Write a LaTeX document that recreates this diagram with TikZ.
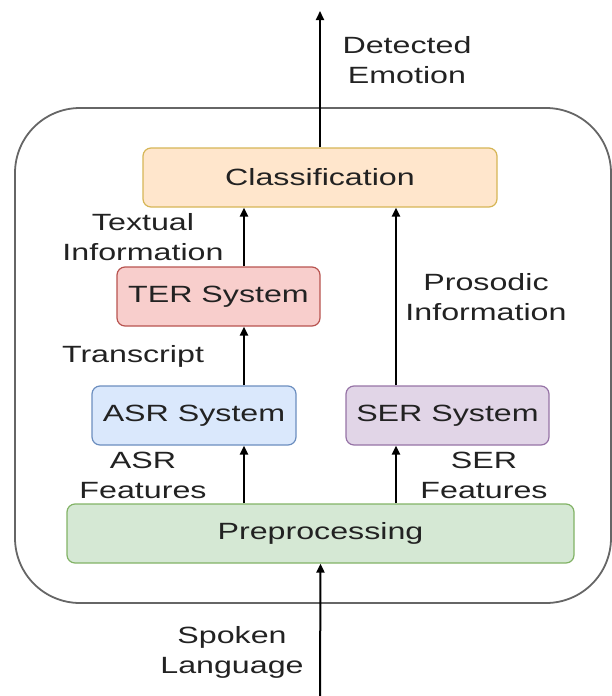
\documentclass[tikz,border=0pt]{standalone}
\usepackage{fontspec}
\setmainfont[FakeStretch=1.37]{Liberation Sans}
\usetikzlibrary{arrows.meta}
\definecolor{clsfill}{HTML}{FFE6CC}\definecolor{clsline}{HTML}{D6B656}
\definecolor{terfill}{HTML}{F8CECC}\definecolor{terline}{HTML}{B85450}
\definecolor{asrfill}{HTML}{DAE8FC}\definecolor{asrline}{HTML}{6C8EBF}
\definecolor{serfill}{HTML}{E1D5E7}\definecolor{serline}{HTML}{9673A6}
\definecolor{prefill}{HTML}{D5E8D4}\definecolor{preline}{HTML}{82B366}
\definecolor{txt}{HTML}{222222}
\tikzset{
  box/.style={draw, line width=1.2pt, rounded corners=8pt, minimum height=59pt, inner sep=0pt, text=txt,
    font=\fontsize{23.5}{30}\selectfont},
  lbl/.style={align=center, text=txt, inner sep=0pt, font=\fontsize{23.5}{30}\selectfont},
  conn/.style={line width=2pt, -{Triangle[length=9pt,width=8pt]}},
}
\begin{document}
\begin{tikzpicture}[x=1pt,y=-1pt]
\useasboundingbox (0,0) rectangle (612,696);
\draw[line width=1.8pt, draw=black!60, rounded corners=65pt] (15,108) rectangle (611,603);
\node[box, fill=clsfill, draw=clsline, minimum width=354pt] (cls) at (320,177.5) {Classification};
\node[box, fill=terfill, draw=terline, minimum width=203pt] (ter) at (218.5,296.5) {TER System};
\node[box, fill=asrfill, draw=asrline, minimum width=204pt] (asr) at (194,415.5) {ASR System};
\node[box, fill=serfill, draw=serline, minimum width=203pt] (ser) at (447.5,415.5) {SER System};
\node[box, fill=prefill, draw=preline, minimum width=507pt] (pre) at (320.5,533.5) {Preprocessing};
\coordinate (lx) at (244,0);
\coordinate (rx) at (396,0);
\coordinate (top) at (320,11);
\coordinate (bot) at (320,696);
\draw[conn] (cls.north) -- (top);
\draw[conn] (bot) -- (pre.south);
\draw[conn] (pre.north -| lx) -- (asr.south -| lx);
\draw[conn] (asr.north -| lx) -- (ter.south -| lx);
\draw[conn] (ter.north -| lx) -- (cls.south -| lx);
\draw[conn] (pre.north -| rx) -- (ser.south -| rx);
\draw[conn] (ser.north -| rx) -- (cls.south -| rx);
\node[lbl] (l1) at (407,60) {Detected\\Emotion};
\node[lbl] (l2) at (143,237) {Textual\\Information};
\node[lbl] (l3) at (133,356) {Transcript};
\node[lbl] (l4) at (486,297) {Prosodic\\Information};
\node[lbl] (l5) at (143,475) {ASR\\Features};
\node[lbl] (l6) at (484,475) {SER\\Features};
\node[lbl] (l7) at (232,652) {Spoken\\Language};
\end{tikzpicture}
\end{document}
